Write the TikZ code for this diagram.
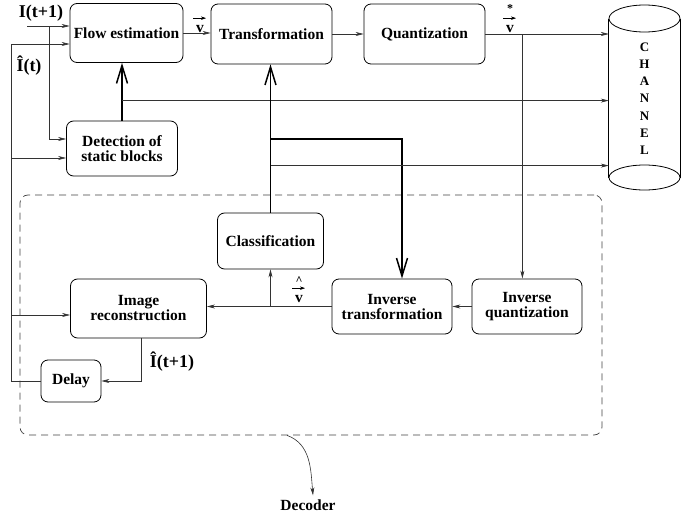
\documentclass[tikz,border=0pt]{standalone}
\usepackage{fontspec}
\setmainfont{Liberation Serif}
\usetikzlibrary{arrows.meta}

\begin{document}
\begin{tikzpicture}[x=1pt,y=-1pt,
    block/.style={draw,rounded corners=7pt,line width=0.8pt,align=center,inner sep=0pt,
      font=\fontsize{15.5}{15}\selectfont\bfseries},
    conn/.style={line width=0.6pt,black!80,-{Stealth[length=8pt,width=4pt,inset=2.5pt]}},
    bigconn/.style={line width=1.8pt,-{Straight Barb[length=18pt,width=11pt,line width=1.5pt]}},
    sig/.style={inner sep=0pt,font=\fontsize{18}{18}\selectfont\bfseries},
    vlab/.style={inner sep=0pt,font=\fontsize{15.5}{15}\selectfont\bfseries},
    vmark/.style={inner sep=0pt,font=\fontsize{12}{12}\selectfont\bfseries},
    vecarrow/.style={line width=0.7pt,-{Stealth[length=5pt,width=3.5pt,inset=1.5pt]}}]
        \useasboundingbox (0,0) rectangle (689,514);

        % Encoder blocks
        \node[block,minimum width=113,minimum height=59] (flow) at (126.5,33) {Flow estimation};
        \node[block,minimum width=121,minimum height=60] (trans) at (271.5,34) {Transformation};
        \node[block,minimum width=121,minimum height=60] (quant) at (424.5,34) {Quantization};
        \node[block,minimum width=111,minimum height=55] (detect) at (122,148.5) {Detection of\\static blocks};

        % Decoder blocks
        \node[block,minimum width=106,minimum height=56] (classif) at (270.5,241) {Classification};
        \node[block,minimum width=136,minimum height=59] (recon) at (138.5,308.5) {Image\\reconstruction};
        \node[block,minimum width=120,minimum height=55] (invtrans) at (392,306.5) {Inverse\\transformation};
        \node[block,minimum width=110,minimum height=55] (invquant) at (527,306.5) {Inverse\\quantization};
        \node[block,minimum width=60,minimum height=42] (delay) at (71,381) {Delay};

        % Decoder frame
        \node[draw,black!75,dashed,dash pattern=on 7pt off 5pt,rounded corners=8pt,line width=0.7pt,
          minimum width=582,minimum height=240] (dec) at (311,315) {};
        \node[inner sep=0pt,font=\fontsize{15.5}{15}\selectfont\bfseries] (dectext) at (308,505) {Decoder};
        \draw[conn] ([xshift=-24]dec.south) to[out=-20,in=95] ([xshift=5,yshift=4]dectext.north);

        % Channel
        \node[inner sep=0pt,align=center,minimum width=71,minimum height=160,
          font=\fontsize{13}{17.2}\selectfont\bfseries] (channel) at (644.5,98.5) {C\\H\\A\\N\\N\\E\\L};
        \draw[line width=0.8pt] (channel.west |- 0,18.5) -- (channel.west |- 0,177.5)
          (channel.east |- 0,18.5) -- (channel.east |- 0,177.5);
        \draw[line width=0.8pt] (644.5,18.5) ellipse [x radius=35.5,y radius=13.5];
        \draw[line width=0.8pt] (644.5,177.5) ellipse [x radius=35.5,y radius=12.5];

        % Inputs
        \coordinate (in1) at (27,26);
        \coordinate (in2) at (11,44);
        \coordinate (br1) at (49,26);
        \coordinate (l2) at (11,158);
        \coordinate (l3) at (11,315);
        \node[sig] (lab1) at (41,13) {I(t+1)};
        \node[sig] (lab2) at (29,66) {\^I(t)};
        \draw[conn] (in1) -- (in1 -| flow.west);
        \draw[conn] (br1) |- ([yshift=9.5]detect.west);
        \draw[conn] (in2) -- (in2 -| flow.west);
        \draw[line width=0.6pt,black!80] (in2) |- (delay.west);
        \draw[conn] (l2) -- (l2 -| detect.west);
        \draw[conn] (l3) -- (l3 -| recon.west);

        % Encoder chain
        \draw[conn] (flow.east) -- (flow.east -| trans.west);
        \draw[conn] (trans) -- (quant);
        \draw[conn] (quant.east) -- (quant.east -| channel.west);
        \node[vlab] (v1) at (200,29) {v};
        \draw[vecarrow] ([xshift=-7,yshift=7]v1.north) -- ([xshift=6,yshift=7]v1.north);
        \node[vlab] (v2) at (510,29) {v};
        \draw[vecarrow] ([xshift=-7,yshift=7]v2.north) -- ([xshift=6,yshift=7]v2.north);
        \node[vmark] (star) at (510,9) {*};
        \coordinate (vq) at ([xshift=37]quant.east);
        \draw[conn] (vq) -- (vq |- invquant.north);

        % Side information
        \draw[bigconn] (detect.north) -- (detect.north |- flow.south);
        \coordinate (d1) at ([yshift=20]detect.north);
        \draw[conn] (d1) -- (d1 -| channel.west);
        \draw[bigconn] (classif.north) -- (classif.north |- trans.south);
        \coordinate (c1) at ([yshift=74]classif.north);
        \coordinate (c2) at ([yshift=47]classif.north);
        \draw[bigconn] (c1) -| ([xshift=10]invtrans.north);
        \draw[conn] (c2) -- (c2 -| channel.west);

        % Decoder chain
        \draw[conn] (invquant) -- (invtrans);
        \draw[conn] (invtrans.west) -- (invtrans.west -| recon.east);
        \coordinate (vb) at (classif.south |- invtrans.west);
        \draw[conn] (vb) -- (classif.south);
        \node[vlab] (v3) at (299,299) {v};
        \draw[vecarrow] ([xshift=-7,yshift=7]v3.north) -- ([xshift=6,yshift=7]v3.north);
        \node[vmark] (hat) at (299,281) {\^{}};
        \coordinate (r1) at ([xshift=3]recon.south);
        \draw[conn] (r1) |- (delay.east);
        \node[sig] (lab3) at (172,362) {\^I(t+1)};
    \end{tikzpicture}
\end{document}
